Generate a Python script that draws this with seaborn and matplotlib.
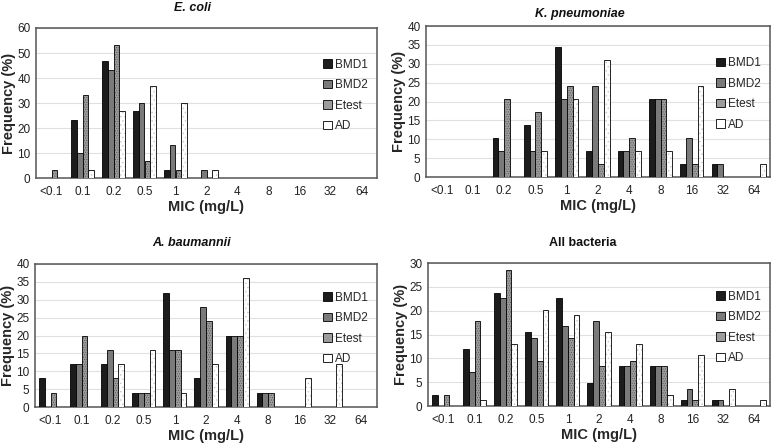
import pandas as pd
import matplotlib.pyplot as plt
import seaborn as sns

# ==========================================
# DADOS
# ==========================================
categorias = ['<0.1', '0.1', '0.2', '0.5', '1', '2', '4', '8', '16', '32', '64']
metodos = ['BMD1', 'BMD2', 'Etest', 'AD']

ecoli_bmd1 = [0, 23.3, 46.7, 26.7, 3.3, 0, 0, 0, 0, 0, 0]
ecoli_bmd2 = [0, 10.0, 43.3, 30.0, 13.3, 3.3, 0, 0, 0, 0, 0]
ecoli_etest = [3.3, 33.3, 53.3, 6.7, 3.3, 0, 0, 0, 0, 0, 0]
ecoli_ad = [0, 3.3, 26.7, 36.7, 30.0, 3.3, 0, 0, 0, 0, 0]

kpn_bmd1 = [0, 0, 10.3, 13.8, 34.5, 6.9, 6.9, 20.7, 3.4, 3.4, 0]
kpn_bmd2 = [0, 0, 6.9, 6.9, 20.7, 24.1, 6.9, 20.7, 10.3, 3.4, 0]
kpn_etest = [0, 0, 20.7, 17.2, 24.1, 3.4, 10.3, 20.7, 3.4, 0, 0]
kpn_ad = [0, 0, 0, 6.9, 20.7, 31.0, 6.9, 6.9, 24.1, 0, 3.4]

ab_bmd1 = [8, 12, 12, 4, 32, 8, 20, 4, 0, 0, 0]
ab_bmd2 = [0, 12, 16, 4, 16, 28, 20, 4, 0, 0, 0]
ab_etest = [4, 20, 8, 4, 16, 24, 20, 4, 0, 0, 0]
ab_ad = [0, 0, 12, 16, 4, 12, 36, 0, 8, 12, 0]

all_bmd1 = [2.4, 11.9, 23.8, 15.5, 22.6, 4.8, 8.3, 8.3, 1.2, 1.2, 0]
all_bmd2 = [0, 7.1, 22.6, 14.3, 16.7, 17.9, 8.3, 8.3, 3.6, 1.2, 0]
all_etest = [2.4, 17.9, 28.6, 9.5, 14.3, 8.3, 9.5, 8.3, 1.2, 0, 0]
all_ad = [0, 1.2, 13.1, 20.2, 19.0, 15.5, 13.1, 2.4, 10.7, 3.6, 1.2]

paineis = [
    ('E. coli', True, 60, 10, [ecoli_bmd1, ecoli_bmd2, ecoli_etest, ecoli_ad]),
    ('K. pneumoniae', True, 40, 5, [kpn_bmd1, kpn_bmd2, kpn_etest, kpn_ad]),
    ('A. baumannii', True, 40, 5, [ab_bmd1, ab_bmd2, ab_etest, ab_ad]),
    ('All bacteria', False, 30, 5, [all_bmd1, all_bmd2, all_etest, all_ad]),
]

# estilo das barras
cores = {'BMD1': '#1c1c1c', 'BMD2': '#7a7a7a', 'Etest': '#9c9c9c', 'AD': '#ffffff'}
hachuras = {'BMD1': '', 'BMD2': '', 'Etest': '.......', 'AD': '....'}
cor_hachura = {'Etest': '#5a5a5a', 'AD': '#c8c8c8'}

# ==========================================
# FIGURA
# ==========================================
sns.set_theme(style="white")
plt.rcParams['font.family'] = ['Liberation Sans', 'DejaVu Sans']
plt.rcParams['hatch.linewidth'] = 0.5

fig = plt.figure(figsize=(7.78, 4.44), dpi=100)
W, H = 778, 444
# caixa do eixo (px) e posição do título (px)
caixas = [(36, 28, 377, 178), (426, 26, 770, 177),
          (35, 264, 377, 407), (428, 263, 770, 406)]
pos_titulo = [(192, 8), (580, 14), (192, 243), (583, 243)]

for (titulo, italico, ymax, passo, series), (x0, y0, x1, y1), (tx, ty) in zip(paineis, caixas, pos_titulo):
    ax = fig.add_axes([x0 / W, 1 - y1 / H, (x1 - x0) / W, (y1 - y0) / H])

    linhas = []
    for metodo, valores in zip(metodos, series):
        for cat, v in zip(categorias, valores):
            linhas.append({'MIC': cat, 'Frequência': v, 'Método': metodo})
    df = pd.DataFrame(linhas)

    sns.barplot(data=df, x='MIC', y='Frequência', hue='Método',
                order=categorias, hue_order=metodos, palette=cores,
                width=0.74, gap=0, edgecolor='black', linewidth=0.6,
                saturation=1, ax=ax, zorder=3)

    # hachura nas barras Etest e AD
    for metodo, cont in zip(metodos, ax.containers):
        for p in cont.patches:
            p.set_hatch(hachuras[metodo])
            if metodo in cor_hachura:
                p._hatch_color = plt.matplotlib.colors.to_rgba(cor_hachura[metodo])

    ax.set_ylim(0, ymax)
    ax.set_yticks(range(0, ymax + 1, passo))
    ax.yaxis.grid(True, color='#e0e0e0', linewidth=0.8, zorder=0)
    ax.set_axisbelow(True)
    for s in ax.spines.values():
        s.set_color('#555555')
        s.set_linewidth(1.1)

    ax.tick_params(axis='both', length=0, labelsize=8.5, colors='#222222')
    ax.tick_params(axis='x', pad=6)
    ax.tick_params(axis='y', pad=4)
    ax.set_xlabel('MIC (mg/L)', fontsize=10.5, fontweight='bold', labelpad=1)
    ax.set_ylabel('Frequency (%)', fontsize=10.5, fontweight='bold', labelpad=1)

    # título centrado na área do gráfico (como no Excel)
    fig.text(tx / W, 1 - ty / H, titulo, fontsize=9, fontweight='bold',
             fontstyle='italic' if italico else 'normal',
             ha='center', va='center', color='#111111')

    ax.legend(loc='center right', bbox_to_anchor=(1.0, 0.55), frameon=False,
              fontsize=8.5, labelspacing=0.72, handlelength=0.75,
              handleheight=0.75, handletextpad=0.25, borderaxespad=0.4)

plt.savefig('out.png', dpi=100)
